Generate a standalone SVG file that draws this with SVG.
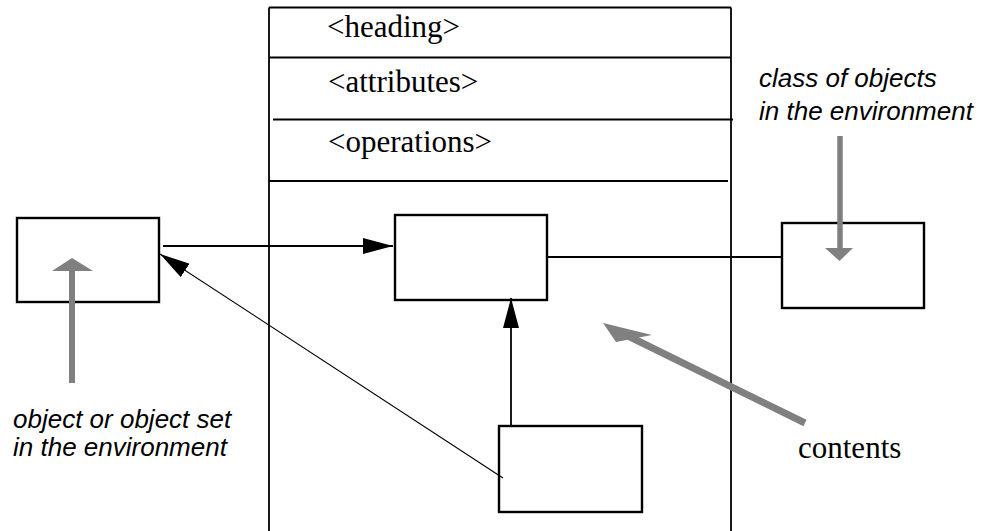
<svg xmlns="http://www.w3.org/2000/svg" width="985" height="531" viewBox="0 0 985 531">
  <style>
    .frame { fill: none; stroke: #000; stroke-width: 1.8; }
    .box { fill: #fff; stroke: #000; stroke-width: 2.4; }
    .link { fill: none; stroke: #000; stroke-width: 1.8; }
    .thin { fill: none; stroke: #000; stroke-width: 1.1; }
    .pointer { fill: none; stroke: #808080; stroke-width: 6; }
    .pointer-head { fill: #808080; stroke: none; }
    .serif { font-family: "Liberation Serif", "Times New Roman", serif; font-size: 31px; fill: #000; }
    .note { font-family: "Liberation Sans", Arial, sans-serif; font-size: 26px; font-style: italic; fill: #000; }
  </style>
  <defs>
    <marker id="arrow" viewBox="0 0 30 16" refX="30" refY="8" markerWidth="30" markerHeight="16" markerUnits="userSpaceOnUse" orient="auto">
      <path d="M0,0 L30,8 L0,16 Z" fill="#000"/>
    </marker>
  </defs>

  <rect width="985" height="531" fill="#fff"/>

  <!-- class frame with compartments -->
  <g id="class-frame">
    <line class="frame" x1="269" y1="7.5" x2="731" y2="7.5"/>
    <line class="frame" x1="269" y1="7.5" x2="269" y2="531"/>
    <line class="frame" x1="731" y1="7.5" x2="731" y2="531"/>
    <line class="frame" x1="269" y1="57.5" x2="731" y2="57.5"/>
    <line class="frame" x1="273" y1="119.5" x2="733" y2="119.5"/>
    <line class="frame" x1="269" y1="181" x2="728" y2="181"/>
    <text class="serif" x="327" y="37">&lt;heading&gt;</text>
    <text class="serif" x="328" y="92">&lt;attributes&gt;</text>
    <text class="serif" x="328" y="152">&lt;operations&gt;</text>
  </g>

  <!-- nodes -->
  <g id="env-object">
    <rect class="box" x="17" y="218" width="142" height="84"/>
  </g>
  <g id="inner-top">
    <rect class="box" x="395" y="215" width="152" height="85"/>
  </g>
  <g id="env-class">
    <rect class="box" x="782" y="223" width="142" height="85"/>
  </g>
  <g id="inner-bottom">
    <rect class="box" x="499" y="426" width="143" height="86"/>
  </g>

  <!-- connectors -->
  <g id="connectors">
    <line class="link" x1="163" y1="246" x2="393" y2="246" marker-end="url(#arrow)"/>
    <line class="link" x1="547" y1="257" x2="782" y2="257"/>
    <line class="link" x1="511" y1="426" x2="511" y2="298" marker-end="url(#arrow)"/>
    <line class="thin" x1="503" y1="478" x2="160" y2="254" marker-end="url(#arrow)"/>
  </g>

  <!-- grey pointers and annotations -->
  <g id="annotations">
    <line class="pointer" x1="72" y1="383" x2="72" y2="268"/>
    <polygon class="pointer-head" points="72,258 93,271 52,271"/>
    <line class="pointer" x1="840" y1="136" x2="840" y2="250" style="stroke-width:5.5"/>
    <polygon class="pointer-head" points="839.5,261 853,248 825,248"/>
    <line class="pointer" x1="628" y1="336" x2="805" y2="423" style="stroke-width:7"/>
    <polygon class="pointer-head" points="603,323 652,335 616,342"/>

    <text class="note" x="759" y="87">class of objects</text>
    <text class="note" x="759" y="120">in the environment</text>
    <text class="note" x="13" y="428">object or object set</text>
    <text class="note" x="13" y="456">in the environment</text>
    <text class="serif" x="798" y="458">contents</text>
  </g>
</svg>
